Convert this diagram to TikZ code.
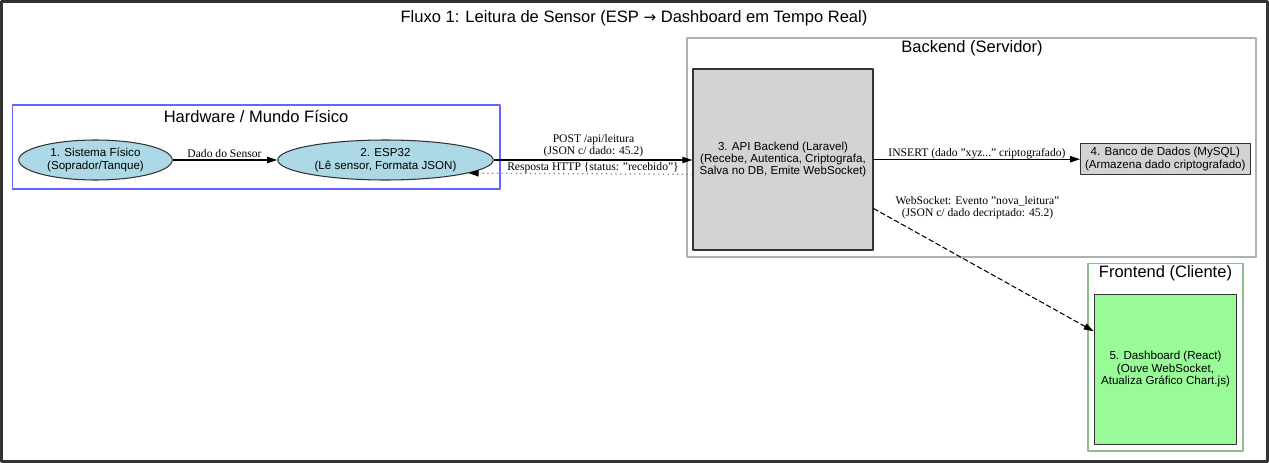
\documentclass[tikz,border=0pt]{standalone}
\usepackage{fontspec}
\setmainfont{Liberation Serif}
\setsansfont{Liberation Sans}
\newfontfamily\arrowfont{DejaVu Sans}
\usetikzlibrary{shapes.geometric,arrows.meta}
\definecolor{frame}{HTML}{333333}
\definecolor{ellblue}{HTML}{ADD8E6}
\definecolor{boxgray}{HTML}{D3D3D3}
\definecolor{boxgreen}{HTML}{98FB98}
\definecolor{hwblue}{HTML}{6464FF}
\definecolor{srvgray}{HTML}{B0B0B0}
\definecolor{cligreen}{HTML}{8FBC8F}
\tikzset{
  ellnode/.style={ellipse,draw=frame,fill=ellblue,line width=0.6pt,inner sep=0pt,minimum height=0.8cm,align=center,font=\sffamily\fontsize{6.6}{7.1}\selectfont},
  boxnode/.style={rectangle,draw=frame,fill=boxgray,line width=0.6pt,inner sep=0pt,align=center,font=\sffamily\fontsize{6.6}{7.1}\selectfont},
  edgelbl/.style={align=center,inner sep=0pt,font=\rmfamily\fontsize{6.6}{7}\selectfont},
  cluslbl/.style={inner sep=0pt,font=\sffamily\fontsize{9.4}{11}\selectfont},
  conn/.style={draw=black,line width=0.6pt,->}
}
\begin{document}
\begin{tikzpicture}[x=0.02cm,y=-0.02cm,>={Triangle[length=5.7pt,width=3.6pt]},line join=round]
  \useasboundingbox (0,0) rectangle (1269,463);
  \draw[frame,line width=1.7pt,fill=white] (1.5,1.5) rectangle (1267.5,461.5);
  \node[cluslbl] (title) at (634,18) {Fluxo 1: Leitura de Sensor (ESP {\arrowfont\fontsize{8.6}{11}\selectfont →} Dashboard em Tempo Real)};
  % clusters
  \draw[hwblue,line width=0.7pt] (12.5,105) rectangle (500,189);
  \node[cluslbl] (hwlbl) at (256,116.5) {Hardware / Mundo Físico};
  \draw[srvgray,line width=1pt] (687,38) rectangle (1256,257);
  \node[cluslbl] (srvlbl) at (972,48) {Backend (Servidor)};
  \draw[cligreen,line width=1pt] (1088,263.5) rectangle (1243,451);
  \node[cluslbl] (clilbl) at (1165.5,273.5) {Frontend (Cliente)};
  % nodes
  \node[ellnode,minimum width=3.07cm] (sys) at (95.5,160) {1. Sistema Físico\\(Soprador/Tanque)};
  \node[ellnode,minimum width=4.31cm] (esp) at (385.5,160) {2. ESP32\\(Lê sensor, Formata JSON)};
  \node[boxnode,minimum width=3.6cm,minimum height=3.62cm] (api) at (783,159.5) {3. API Backend (Laravel)\\(Recebe, Autentica, Criptografa,\\Salva no DB, Emite WebSocket)};
  \node[boxnode,minimum width=3.39cm,minimum height=0.63cm] (db) at (1165.3,159.2) {4. Banco de Dados (MySQL)\\(Armazena dado criptografado)};
  \node[boxnode,fill=boxgreen,minimum width=2.85cm,minimum height=3cm] (dash) at (1165.5,369.3) {5. Dashboard (React)\\(Ouve WebSocket,\\Atualiza Gráfico Chart.js)};
  % connectors
  \draw[conn] (sys) -- (esp);
  \node[edgelbl] (l1) at (224.5,154) {Dado do Sensor};
  \draw[conn] (esp.east) -- (esp.east -| api.west);
  \node[edgelbl] (l2) at (593.5,146) {POST /api/leitura\\(JSON c/ dado: 45.2)};
  \draw[draw=gray,dotted,line width=0.7pt,-{Triangle[length=5.7pt,width=3.6pt,black]}] ([yshift=-0.296cm]api.west) -- (esp.-9);
  \node[edgelbl] (l3) at (593,167.7) {Resposta HTTP \{status: "recebido"\}};
  \draw[conn] (api.east |- db.west) -- (db.west);
  \node[edgelbl] (l4) at (977,153.3) {INSERT (dado "xyz..." criptografado)};
  \draw[conn,dashed,dash pattern=on 3pt off 1.5pt] ([yshift=-0.98cm]api.east) -- ([yshift=0.76cm]dash.west);
  \node[edgelbl] (l5) at (977.5,207.5) {WebSocket: Evento "nova\_leitura"\\(JSON c/ dado decriptado: 45.2)};
\end{tikzpicture}
\end{document}
